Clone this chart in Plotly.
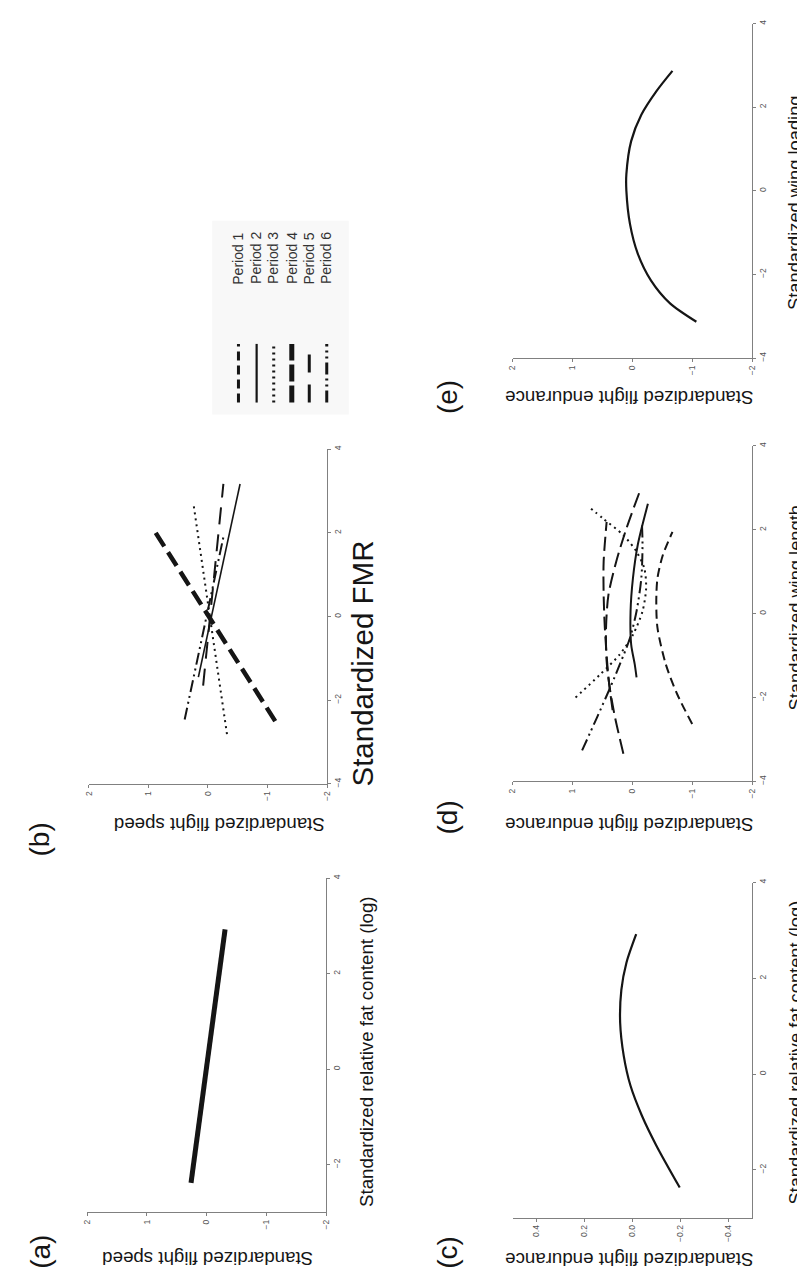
import plotly.graph_objects as go

W, H = 805, 1279

# ---------------- data ----------------
# tick values
ticks_wide = [-4, -2, 0, 2, 4]
ticks_fat = [-2, 0, 2, 4]
ticks_std = [-2, -1, 0, 1, 2]
ticks_small = [-0.4, -0.2, 0.0, 0.2, 0.4]

# (a) relative fat content (log) vs flight speed
a_fat = [-2.38, 2.93]
a_speed = [0.26, -0.31]

# (b) FMR vs flight speed, per period
b_p2_fmr = [-1.45, 3.17]
b_p2_speed = [0.16, -0.54]
b_p3_fmr = [-2.81, 2.72]
b_p3_speed = [-0.32, 0.245]
b_p4_fmr = [-2.50, 2.10]
b_p4_speed = [-1.13, 0.92]
b_p5_fmr = [-1.65, 3.17]
b_p5_speed = [0.08, -0.26]
b_p6_fmr = [-2.46, 1.90]
b_p6_speed = [0.39, -0.26]

# (c) relative fat content (log) vs flight endurance
c_fat = [-2.37, -1.49, -0.87, -0.24, 0.38, 1.07, 1.76, 2.32, 2.92]
c_endur = [-0.198, -0.100, -0.040, 0.008, 0.036, 0.051, 0.046, 0.025, -0.016]

# (d) wing length vs flight endurance, per period
d_p1_wing = [-2.63, -1.92, -1.21, -0.34, 0.29, 0.85, 1.40, 1.95]
d_p1_endur = [-1.00, -0.75, -0.56, -0.42, -0.40, -0.42, -0.51, -0.67]
d_p2_wing = [-1.52, -1.21, -0.73, 0.06, 0.85, 1.64, 2.62]
d_p2_endur = [-0.07, -0.04, 0.02, 0.03, -0.01, -0.09, -0.26]
d_p3_wing = [-2.00, -1.45, -0.97, -0.50, 0.06, 0.61, 1.08, 1.48, 1.87, 2.27, 2.55]
d_p3_endur = [0.95, 0.54, 0.21, -0.01, -0.17, -0.23, -0.20, -0.07, 0.15, 0.49, 0.73]
d_p4_wing = [-2.30, -1.52, -0.34, 0.45, 1.24, 2.19]
d_p4_endur = [0.33, 0.40, 0.46, 0.48, 0.48, 0.43]
d_p5_wing = [-3.34, -2.47, -1.84, -1.13, -0.34, 0.45, 1.24, 2.03, 2.90]
d_p5_endur = [0.15, 0.29, 0.37, 0.43, 0.44, 0.40, 0.27, 0.10, -0.12]
d_p6_wing = [-3.26, -2.47, -1.76, -1.21, -0.58, 0.06, 0.85, 1.64, 2.15]
d_p6_endur = [0.84, 0.59, 0.37, 0.21, 0.04, -0.07, -0.15, -0.17, -0.16]

# (e) wing loading vs flight endurance
e_load = [-3.13, -2.69, -2.14, -1.50, -0.79, 0.00, 0.40, 1.19, 1.82, 2.38, 2.87]
e_endur = [-1.07, -0.63, -0.31, -0.09, 0.04, 0.10, 0.10, 0.02, -0.15, -0.40, -0.67]

period_names = ["Period 1", "Period 2", "Period 3", "Period 4", "Period 5", "Period 6"]

# ---------------- styles ----------------
DASH = {
    1: "9px,5px",
    2: "solid",
    3: "2px,4px",
    4: "16px,6px",
    5: "17px,10px",
    6: "12px,4px,2px,4px,2px,4px",
}
INK = "#151515"
AXC = "#808080"
TICKC = "#555555"
FONT = "Arial, Liberation Sans, sans-serif"


def X(px):
    return px / W


def Y(py):
    return 1 - py / H


fig = go.Figure()

# panel geometry in pixels
panels = [
    ("a", (75, 317), (871.7, 1208), [2, -2], ticks_std, [-3, 4], ticks_fat, None),
    ("b", (76.7, 318), (440, 776.7), [2, -2], ticks_std, [-4, 4], ticks_wide, None),
    ("c", (506, 748.3), (876, 1213.3), [0.5, -0.5], ticks_small, [-3, 4], ticks_fat, ".1f"),
    ("d", (506, 748.3), (436.7, 774.3), [2, -2], ticks_std, [-4, 4], ticks_wide, None),
    ("e", (506, 748.3), (11.7, 348.3), [2, -2], ticks_std, [-4, 4], ticks_wide, None),
]

layout_axes = {}
axis_ids = {}
for i, (pid, xs, ys, hr, ht, vr, vt, fmt) in enumerate(panels, start=1):
    sfx = "" if i == 1 else str(i)
    axis_ids[pid] = ("x" + sfx, "y" + sfx)
    common = dict(
        showgrid=False, zeroline=False, showline=True, linecolor=AXC, linewidth=1,
        ticks="outside", ticklen=3, tickcolor=AXC, tickwidth=1,
        tickangle=-90, tickfont=dict(size=8.5, color=TICKC, family=FONT),
        fixedrange=True,
    )
    xa = dict(common, domain=[X(xs[0]), X(xs[1])], range=hr, tickvals=ht,
              anchor="y" + sfx, side="bottom")
    if fmt:
        xa["tickformat"] = fmt
    ya = dict(common, domain=[Y(ys[1]), Y(ys[0])], range=vr, tickvals=vt,
              anchor="x" + sfx, side="right")
    layout_axes["xaxis" + sfx] = xa
    layout_axes["yaxis" + sfx] = ya


def add_line(pid, horiz, vert, dash, width, spline=False):
    xa, ya = axis_ids[pid]
    fig.add_trace(go.Scatter(
        x=horiz, y=vert, xaxis=xa, yaxis=ya, mode="lines",
        line=dict(color=INK, width=width, dash=dash,
                  shape="spline" if spline else "linear", smoothing=0.8),
        showlegend=False, hoverinfo="skip",
    ))


# (a)
add_line("a", a_speed, a_fat, "solid", 5.0)
# (b)
add_line("b", b_p2_speed, b_p2_fmr, DASH[2], 1.6)
add_line("b", b_p3_speed, b_p3_fmr, DASH[3], 2.0)
add_line("b", b_p5_speed, b_p5_fmr, DASH[5], 2.0)
add_line("b", b_p6_speed, b_p6_fmr, DASH[6], 2.0)
add_line("b", b_p4_speed, b_p4_fmr, "16px,7px", 4.5)
# (c)
add_line("c", c_endur, c_fat, "solid", 2.2, spline=True)
# (d)
add_line("d", d_p1_endur, d_p1_wing, DASH[1], 2.0, spline=True)
add_line("d", d_p2_endur, d_p2_wing, DASH[2], 2.0, spline=True)
add_line("d", d_p3_endur, d_p3_wing, DASH[3], 2.0, spline=True)
add_line("d", d_p4_endur, d_p4_wing, "14px,6px", 2.0, spline=True)
add_line("d", d_p5_endur, d_p5_wing, "15px,6px", 2.0, spline=True)
add_line("d", d_p6_endur, d_p6_wing, DASH[6], 2.0, spline=True)
# (e)
add_line("e", e_endur, e_load, "solid", 2.2, spline=True)

annotations = []


def txt(text, px, py, size, angle, color=INK):
    annotations.append(dict(
        text=text, x=X(px), y=Y(py), xref="paper", yref="paper",
        xanchor="center", yanchor="middle", showarrow=False,
        textangle=angle, font=dict(size=size, color=color, family=FONT),
    ))


# panel letters
txt("(a)", 28, 1248, 28, -90)
txt("(b)", 27, 833, 28, -90)
txt("(c)", 440, 1248, 28, -90)
txt("(d)", 440, 811, 28, -90)
txt("(e)", 440, 388, 28, -90)

# axis titles (original x-axis titles read bottom-to-top)
txt("Standardized relative fat content (log)", 358, 1046, 18.7, -90)
txt("Standardized FMR", 354, 656, 29.5, -90)
txt("Standardized relative fat content (log)", 792, 1047, 18.3, -90)
txt("Standardized wing length", 792, 600, 18.3, -90)
txt("Standardized wing loading", 792, 192, 18.3, -90)

# original y-axis titles (upside down)
txt("Standardized flight speed", 197, 1255, 18.7, 180)
txt("Standardized flight speed", 209, 817, 18.7, 180)
txt("Standardized flight endurance", 624, 1256, 18.7, 180)
txt("Standardized flight endurance", 624, 817, 18.7, 180)
txt("Standardized flight endurance", 624, 388, 18.7, 180)

# legend (rotated like the rest of the figure)
shapes = [dict(type="rect", xref="paper", yref="paper",
               x0=X(201.7), x1=X(340), y0=Y(405), y1=Y(210),
               fillcolor="#f8f8f8", line=dict(width=0), layer="below")]
leg_x = [228.3, 246.7, 264.0, 282.3, 300.0, 317.7]
leg_w = [3.0, 2.2, 3.0, 5.0, 3.0, 3.0]
leg_dash = [DASH[1], DASH[2], DASH[3], "17px,4px", "18px,12px", "12px,4px,2px,4px,2px,4px"]
for k, name in enumerate(period_names):
    shapes.append(dict(type="line", xref="paper", yref="paper",
                       x0=X(leg_x[k]), x1=X(leg_x[k]), y0=Y(393), y1=Y(334),
                       line=dict(color=INK, width=leg_w[k], dash=leg_dash[k])))
    annotations.append(dict(
        text=name, x=X(leg_x[k]), y=Y(276), xref="paper", yref="paper",
        xanchor="center", yanchor="bottom", showarrow=False, textangle=-90,
        font=dict(size=14, color="#333333", family=FONT),
    ))

fig.update_layout(
    width=W, height=H,
    margin=dict(l=0, r=0, t=0, b=0),
    paper_bgcolor="white", plot_bgcolor="white",
    showlegend=False,
    annotations=annotations,
    shapes=shapes,
    **layout_axes,
)

fig.write_html("out.html")
